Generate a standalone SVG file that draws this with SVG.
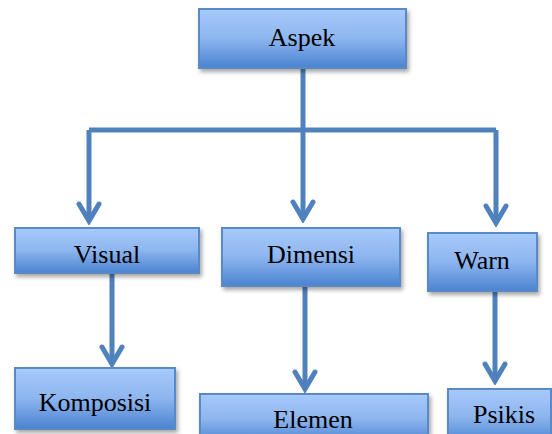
<svg xmlns="http://www.w3.org/2000/svg" width="552" height="434" viewBox="0 0 552 434">
<style>
.box{fill:url(#g);stroke:#5a8ac6;stroke-width:2;filter:url(#sh)}
.lbl{font-family:"Liberation Serif","Times New Roman",serif;font-size:26px;fill:#000;text-anchor:middle}
.con{fill:none;stroke:#4f81bd;stroke-width:5;marker-end:url(#ah)}
.plain{fill:none;stroke:#4f81bd;stroke-width:5}
</style>
<defs>
<linearGradient id="g" x1="0" y1="0" x2="0" y2="1">
<stop offset="0" stop-color="#a8cafb"/>
<stop offset="0.5" stop-color="#8db5ef"/>
<stop offset="1" stop-color="#4a83d0"/>
</linearGradient>
<filter id="sh" x="-10%" y="-10%" width="130%" height="140%">
<feDropShadow dx="2" dy="3" stdDeviation="2" flood-color="#000" flood-opacity="0.35"/>
</filter>
<marker id="ah" markerUnits="userSpaceOnUse" viewBox="-22 -14 26 28" markerWidth="26" markerHeight="28" refX="0" refY="0" orient="auto">
<path d="M-17,-10 L0,0 L-17,10" fill="none" stroke="#4f81bd" stroke-width="5" stroke-linecap="round" stroke-linejoin="miter"/>
</marker>
</defs>
<g id="connectors">
<path class="plain" d="M303,68 V130"/>
<path class="plain" d="M89,130 H496"/>
<path class="con" d="M89,130 V221"/>
<path class="con" d="M303,130 V219"/>
<path class="con" d="M496,130 V223"/>
<path class="con" d="M112,273 V364"/>
<path class="con" d="M305,286 V389"/>
<path class="con" d="M495,291 V381"/>
</g>
<g id="aspek"><rect class="box" x="199" y="9" width="207" height="59"/><text class="lbl" x="302" y="46">Aspek</text></g>
<g id="visual"><rect class="box" x="15" y="228" width="184" height="45"/><text class="lbl" x="107" y="263">Visual</text></g>
<g id="dimensi"><rect class="box" x="222" y="228" width="178" height="58"/><text class="lbl" x="311" y="263">Dimensi</text></g>
<g id="warn"><rect class="box" x="428" y="233" width="109" height="58"/><text class="lbl" x="482" y="269">Warn</text></g>
<g id="komposisi"><rect class="box" x="15" y="368" width="160" height="61"/><text class="lbl" x="95" y="411">Komposisi</text></g>
<g id="elemen"><rect class="box" x="200" y="394" width="228" height="50"/><text class="lbl" x="313" y="428">Elemen</text></g>
<g id="psikis"><rect class="box" x="448" y="389" width="103" height="55"/><text class="lbl" x="504" y="423">Psikis</text></g>
</svg>
